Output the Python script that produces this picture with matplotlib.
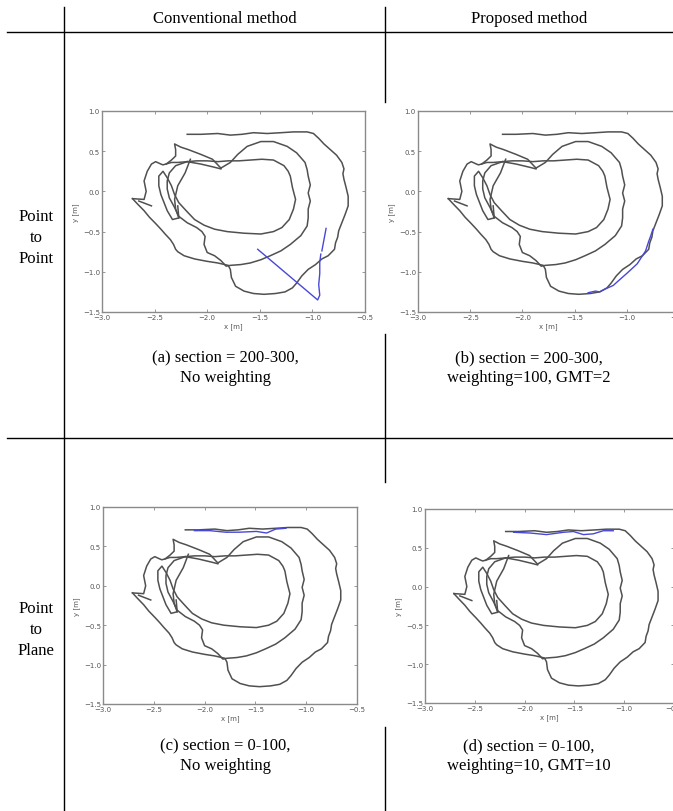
import matplotlib
matplotlib.use('Agg')
import matplotlib.pyplot as plt

W, H = 673, 812

col_titles = ["Conventional method", "Proposed method"]
row_titles = ["Point\nto\nPoint", "Point\nto\nPlane"]
captions = [("(a) section = 200-300,", "No weighting"),
            ("(b) section = 200-300,", "weighting=100, GMT=2"),
            ("(c) section = 0-100,", "No weighting"),
            ("(d) section = 0-100,", "weighting=10, GMT=10")]

x_ticks = [-3.0, -2.5, -2.0, -1.5, -1.0, -0.5]
y_ticks = [-1.5, -1.0, -0.5, 0.0, 0.5, 1.0]

# gray trajectory (metres)
outer_loop = [(-2.19, 0.71), (-2.06, 0.71), (-1.90, 0.72), (-1.78, 0.70), (-1.67, 0.71),
              (-1.56, 0.73), (-1.43, 0.72), (-1.30, 0.73), (-1.18, 0.74), (-1.05, 0.74),
              (-0.99, 0.72), (-0.94, 0.66), (-0.89, 0.59), (-0.83, 0.52), (-0.77, 0.45),
              (-0.72, 0.36), (-0.70, 0.28), (-0.71, 0.22), (-0.70, 0.15), (-0.68, 0.05),
              (-0.66, -0.06), (-0.66, -0.18), (-0.69, -0.29), (-0.72, -0.39), (-0.75, -0.49),
              (-0.76, -0.57), (-0.78, -0.64), (-0.79, -0.72), (-0.85, -0.80), (-0.91, -0.84),
              (-0.97, -0.91), (-1.04, -0.97), (-1.10, -1.05), (-1.15, -1.14), (-1.19, -1.20),
              (-1.26, -1.25), (-1.35, -1.27), (-1.46, -1.28), (-1.56, -1.27), (-1.65, -1.24),
              (-1.73, -1.18), (-1.77, -1.07), (-1.78, -0.97), (-1.80, -0.92), (-1.90, -0.89),
              (-2.00, -0.87), (-2.12, -0.84), (-2.22, -0.80), (-2.28, -0.75), (-2.30, -0.72),
              (-2.32, -0.66), (-2.35, -0.60), (-2.40, -0.53), (-2.44, -0.47), (-2.49, -0.40),
              (-2.55, -0.32), (-2.60, -0.24), (-2.66, -0.16), (-2.71, -0.09)]
left_lobe = [(-2.71, -0.09), (-2.60, -0.10), (-2.58, 0.00), (-2.60, 0.13), (-2.57, 0.25),
             (-2.53, 0.34), (-2.49, 0.37), (-2.44, 0.34), (-2.42, 0.33), (-2.34, 0.36),
             (-2.28, 0.36), (-2.19, 0.37), (-2.06, 0.34), (-1.93, 0.30), (-1.87, 0.28)]
spike_line = [(-2.39, 0.34), (-2.34, 0.39), (-2.30, 0.44), (-2.30, 0.52), (-2.31, 0.59),
              (-2.25, 0.55), (-2.18, 0.52), (-2.06, 0.46), (-1.95, 0.40), (-1.87, 0.29)]
heart_loop = [(-1.87, 0.29), (-1.78, 0.36), (-1.71, 0.46), (-1.62, 0.56), (-1.49, 0.62),
              (-1.37, 0.62), (-1.24, 0.56), (-1.15, 0.48), (-1.07, 0.36), (-1.05, 0.27),
              (-1.04, 0.19), (-1.02, 0.08), (-1.04, -0.02), (-1.02, -0.12), (-1.04, -0.22),
              (-1.04, -0.33), (-1.05, -0.43), (-1.11, -0.55), (-1.21, -0.66), (-1.30, -0.74),
              (-1.40, -0.80), (-1.49, -0.85), (-1.59, -0.89), (-1.68, -0.91), (-1.78, -0.92),
              (-1.82, -0.93), (-1.87, -0.86), (-1.93, -0.80), (-2.00, -0.76), (-2.03, -0.66),
              (-2.02, -0.56), (-2.05, -0.50), (-2.10, -0.45), (-2.19, -0.39), (-2.27, -0.31),
              (-2.31, -0.20), (-2.36, -0.08), (-2.38, 0.03), (-2.38, 0.13), (-2.36, 0.23),
              (-2.30, 0.32), (-2.19, 0.37)]
inner_loop = [(-2.19, 0.37), (-2.10, 0.38), (-2.00, 0.38), (-1.90, 0.37), (-1.80, 0.38),
              (-1.70, 0.38), (-1.59, 0.39), (-1.48, 0.40), (-1.37, 0.39), (-1.27, 0.32),
              (-1.23, 0.25), (-1.21, 0.19), (-1.20, 0.12), (-1.19, 0.05), (-1.16, -0.10),
              (-1.18, -0.22), (-1.22, -0.35), (-1.29, -0.45), (-1.37, -0.50), (-1.49, -0.53),
              (-1.65, -0.52), (-1.81, -0.50), (-1.93, -0.47), (-2.03, -0.42), (-2.12, -0.35),
              (-2.20, -0.24), (-2.27, -0.14), (-2.31, -0.04), (-2.34, 0.07), (-2.38, 0.17),
              (-2.42, 0.25), (-2.46, 0.19), (-2.46, 0.07), (-2.44, -0.04), (-2.41, -0.14),
              (-2.38, -0.24), (-2.33, -0.35), (-2.27, -0.33), (-2.28, -0.18)]
cross_line = [(-2.16, 0.40), (-2.21, 0.23), (-2.28, 0.07), (-2.31, -0.10), (-2.30, -0.22),
              (-2.27, -0.33)]
start_tail = [(-2.65, -0.12), (-2.53, -0.18)]

gray_path = [outer_loop, left_lobe, spike_line, heart_loop, inner_loop, cross_line, start_tail]

# blue (section) estimates per panel
blue_a = [[(-1.52, -0.72), (-0.95, -1.35), (-0.93, -1.29), (-0.94, -1.16), (-0.93, -1.02),
           (-0.93, -0.88), (-0.92, -0.78)],
          [(-0.91, -0.74), (-0.89, -0.60), (-0.87, -0.46)]]
blue_b = [[(-1.37, -1.26), (-1.30, -1.24), (-1.26, -1.25), (-1.20, -1.21), (-1.13, -1.17),
           (-1.07, -1.10), (-1.00, -1.02), (-0.95, -0.96), (-0.90, -0.90), (-0.85, -0.80),
           (-0.82, -0.74), (-0.80, -0.66), (-0.79, -0.62), (-0.77, -0.55), (-0.75, -0.47)]]
blue_c = [[(-2.10, 0.70), (-1.95, 0.70), (-1.79, 0.68), (-1.66, 0.68), (-1.49, 0.69),
           (-1.39, 0.67), (-1.30, 0.72), (-1.20, 0.73)]]
blue_d = [[(-2.11, 0.70), (-1.94, 0.69), (-1.78, 0.67), (-1.61, 0.70), (-1.51, 0.71),
           (-1.41, 0.67), (-1.31, 0.68), (-1.21, 0.72), (-1.11, 0.72)]]
blues = [blue_a, blue_b, blue_c, blue_d]

serif = 'Liberation Serif'

fig = plt.figure(figsize=(W / 100, H / 100), dpi=100)

# table frame drawn in pixel coordinates
bg = fig.add_axes([0, 0, 1, 1])
bg.set_xlim(0, W)
bg.set_ylim(H, 0)
bg.axis('off')
lk = dict(color='black', lw=1.0)
bg.plot([64, 64], [8, H], **lk)
bg.plot([385, 385], [8, 103], **lk)
bg.plot([385, 385], [335, 483], **lk)
bg.plot([385, 385], [728, H], **lk)
bg.plot([7, W], [33, 33], **lk)
bg.plot([7, W], [439, 439], **lk)

bg.text(225, 19, col_titles[0], family=serif, fontsize=12, ha='center', va='center')
bg.text(529, 19, col_titles[1], family=serif, fontsize=12, ha='center', va='center')
bg.text(36, 238, row_titles[0], family=serif, fontsize=12, ha='center', va='center',
        multialignment='center', linespacing=1.45)
bg.text(36, 630, row_titles[1], family=serif, fontsize=12, ha='center', va='center',
        multialignment='center', linespacing=1.45)

cap_pos = [(225, 358), (529, 358), (225, 746), (529, 746)]
for (cx, cy), (l1, l2) in zip(cap_pos, captions):
    bg.text(cx, cy, l1, family=serif, fontsize=12, ha='center', va='center')
    bg.text(cx, cy + 20, l2, family=serif, fontsize=12, ha='center', va='center')

rects = [(102, 112, 365, 313), (418, 112, 679, 313), (103, 508, 357, 705), (425, 510, 674, 704)]

for (l, t, r, b), blue in zip(rects, blues):
    ax = fig.add_axes([l / W, 1 - b / H, (r - l) / W, (b - t) / H])
    for seg in gray_path:
        xs, ys = zip(*seg)
        ax.plot(xs, ys, color='#505050', lw=1.1)
    for seg in blue:
        xs, ys = zip(*seg)
        ax.plot(xs, ys, color='#4848d8', lw=1.0)
    ax.set_xlim(-3.0, -0.5)
    ax.set_ylim(-1.5, 1.0)
    ax.set_xticks(x_ticks)
    ax.set_yticks(y_ticks)
    ax.tick_params(direction='in', top=True, right=True, length=2.5, width=0.6,
                   color='#888888', labelcolor='#555555', labelsize=5, pad=1.5)
    for sp in ax.spines.values():
        sp.set_color('#8a8a8a')
        sp.set_linewidth(1.0)
    ax.set_xlabel('x [m]', fontsize=5, color='#555555', labelpad=1.5)
    ax.set_ylabel('y [m]', fontsize=5, color='#555555', labelpad=3)

fig.savefig('out.png', dpi=100)
